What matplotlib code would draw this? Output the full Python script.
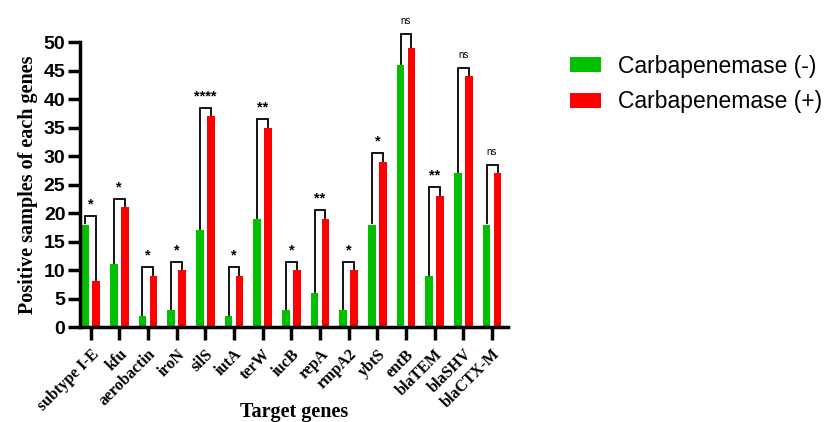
import matplotlib
matplotlib.use("Agg")
import matplotlib.pyplot as plt
import numpy as np

genes = ["subtype I-E", "kfu", "aerobactin", "iroN", "silS", "iutA", "terW", "iucB",
         "repA", "rmpA2", "ybtS", "entB", "blaTEM", "blaSHV", "blaCTX-M"]
neg = [18, 11, 2, 3, 17, 2, 19, 3, 6, 3, 18, 46, 9, 27, 18]
pos = [8, 21, 9, 10, 37, 9, 35, 10, 19, 10, 29, 49, 23, 44, 27]
sig = ["*", "*", "*", "*", "****", "*", "**", "*", "**", "*", "*", "ns", "**", "ns", "ns"]
yticks = list(range(0, 51, 5))

GREEN = "#00C000"
RED = "#FF0000"

fig = plt.figure(figsize=(8.33, 4.22), dpi=100)
ax = fig.add_axes([0.096, 0.225, 0.514, 0.675])

x = np.arange(len(genes))
w = 0.27
off = 0.19
ax.bar(x - off, neg, width=w, color=GREEN, label="Carbapenemase (-)")
ax.bar(x + off, pos, width=w, color=RED, label="Carbapenemase (+)")

for i in range(len(genes)):
    top = max(neg[i], pos[i]) + (2.5 if i == 11 else 1.5)
    xl, xr = x[i] - off, x[i] + off
    ax.plot([xl, xl, xr, xr], [neg[i] + 0.2, top, top, pos[i] + 0.2],
            color="black", lw=1.3, clip_on=False, solid_joinstyle="miter")
    if sig[i] == "ns":
        ax.text(x[i], top + 1.3, "ns", ha="center", va="bottom", fontsize=7,
                family="Liberation Sans", clip_on=False)
    else:
        ax.text(x[i], top + 0.8, sig[i], ha="center", va="bottom", fontsize=10.5,
                fontweight="bold", family="Liberation Sans", clip_on=False)

ax.set_ylim(0, 50)
ax.set_xlim(-0.37, len(genes) - 1 + 0.56)
ax.set_yticks(yticks)
ax.set_yticklabels([str(v) for v in yticks], fontsize=14, fontweight="bold",
                   family="Liberation Sans")
ax.set_xticks(x)
ax.set_xticklabels(genes, rotation=45, ha="right", rotation_mode="anchor",
                   fontsize=11.5, fontweight="bold", family="Liberation Serif")
ax.tick_params(axis="y", width=2.5, length=9, pad=1.5)
ax.tick_params(axis="x", width=2.5, length=9, pad=5)
for s in ["top", "right"]:
    ax.spines[s].set_visible(False)
for s in ["left", "bottom"]:
    ax.spines[s].set_linewidth(2.5)

ax.set_ylabel("Positive samples of each genes", fontsize=14.5, fontweight="bold",
              family="Liberation Serif", labelpad=4)
ax.set_xlabel("Target genes", fontsize=14.5, fontweight="bold",
              family="Liberation Serif")
ax.xaxis.set_label_coords(0.5, -0.262)

fig.legend(loc="upper left", bbox_to_anchor=(0.659, 0.919), frameon=False,
           prop={"family": "Liberation Sans", "size": 16.5},
           handlelength=1.35, handleheight=0.65, handletextpad=0.75, labelspacing=0.55)

fig.savefig("out.png", dpi=100)
